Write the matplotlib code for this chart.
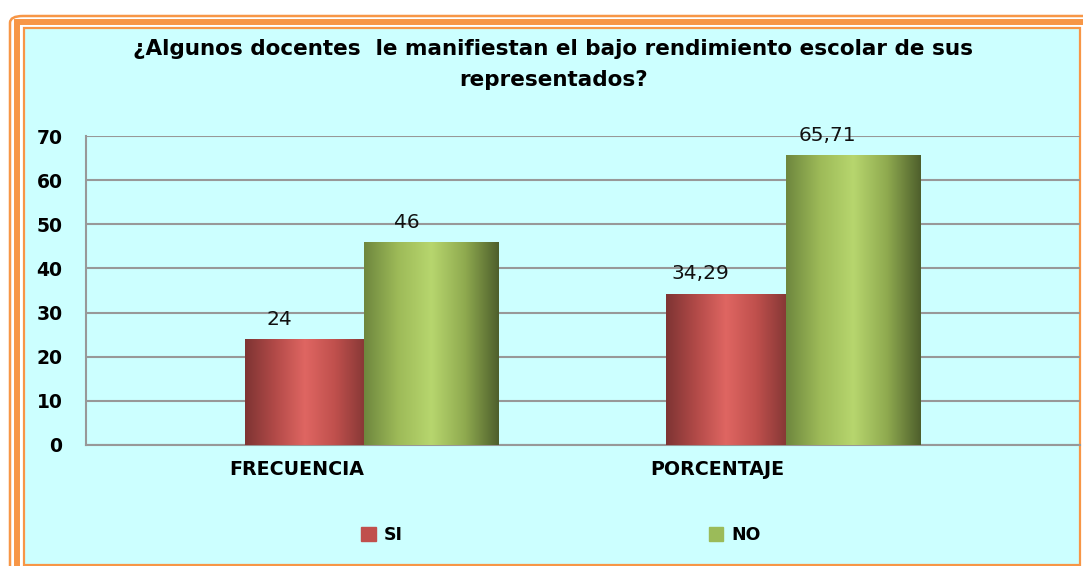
import numpy as np
import matplotlib.pyplot as plt
from matplotlib.patches import Rectangle, FancyBboxPatch, Patch
from matplotlib.colors import LinearSegmentedColormap

categorias = ["FRECUENCIA", "PORCENTAJE"]
si = [24, 34.29]
no = [46, 65.71]
etiquetas_si = ["24", "34,29"]
etiquetas_no = ["46", "65,71"]
titulo = "¿Algunos docentes  le manifiestan el bajo rendimiento escolar de sus\nrepresentados?"

W, H = 1083, 566
fig = plt.figure(figsize=(W / 100, H / 100), dpi=100)
fig.patch.set_facecolor("white")

def px(x, y, w, h):  # pixel box (from top-left) -> figure fraction
    return (x / W, 1 - (y + h) / H), w / W, h / H

naranja = "#F79646"
# outer thin frame
(x0, y0), w0, h0 = px(10, 16, 1100, 600)
fig.patches.append(FancyBboxPatch((x0, y0), w0, h0, boxstyle="round,pad=0,rounding_size=0.012",
                                  transform=fig.transFigure, fill=False, ec=naranja, lw=1.8, zorder=-3))
# thick frame
(x1, y1), w1, h1 = px(17, 22, 1070, 550)
fig.patches.append(Rectangle((x1, y1), w1, h1, transform=fig.transFigure, fill=False, ec=naranja,
                             lw=4.3, zorder=-2))
# inner area
(x2, y2), w2, h2 = px(24, 27.5, 1056, 537)
fig.patches.append(Rectangle((x2, y2), w2, h2, transform=fig.transFigure, fc="#CCFFFF", ec=naranja,
                             lw=1.6, zorder=-1))

ax = fig.add_axes([86 / W, 1 - 445 / H, (1080 - 86) / W, (445 - 136) / H])
ax.set_facecolor("none")

x = np.arange(len(categorias))
b1 = ax.bar(x - 0.161, si, 0.284, color="#C0504D", label="SI", zorder=3)
b2 = ax.bar(x + 0.141, no, 0.32, color="#9BBB59", label="NO", zorder=3)

rojo = LinearSegmentedColormap.from_list("r", ["#7E3433", "#B24A48", "#DF6662", "#C0504D", "#873836"])
verde = LinearSegmentedColormap.from_list("g", ["#6E873E", "#9DBA58", "#B7D66E", "#8FAA4F", "#4E5F2C"])
grad = np.linspace(0, 1, 256).reshape(1, -1)
for barras, cmap in [(b1, rojo), (b2, verde)]:
    for b in barras:
        bx, by = b.get_x(), b.get_y()
        bw, bh = b.get_width(), b.get_height()
        im = ax.imshow(grad, cmap=cmap, aspect="auto", extent=[bx, bx + bw, by, by + bh],
                       zorder=4, interpolation="bicubic")
        im.set_clip_path(b)

for barras, etq in [(b1, etiquetas_si), (b2, etiquetas_no)]:
    for b, t in zip(barras, etq):
        ax.text(b.get_x() + b.get_width() / 2 - 0.06, b.get_height() + 2.3, t, ha="center",
                va="bottom", fontsize=14.5, family="DejaVu Sans", color="#111111", zorder=5)

ax.set_xlim(-0.68, 1.68)
ax.set_ylim(0, 70)
ax.set_yticks(range(0, 71, 10))
ax.set_xticks(x - 0.18)
ax.set_xticklabels(categorias)
ax.grid(axis="y", color="#989898", lw=1.5, zorder=1)
for s in ["top", "right"]:
    ax.spines[s].set_visible(False)
for s in ["left", "bottom"]:
    ax.spines[s].set_color("#989898")
    ax.spines[s].set_linewidth(1.5)
ax.tick_params(length=0)
ax.tick_params(axis="y", pad=17, labelsize=13.5)
ax.tick_params(axis="x", pad=11, labelsize=13.7)
for t in ax.get_xticklabels() + ax.get_yticklabels():
    t.set_fontweight("bold")
    t.set_family("DejaVu Sans")

ax.set_title(titulo, fontsize=15.5, fontweight="bold", family="DejaVu Sans", pad=36, x=0.47,
             linespacing=1.7)

fig.legend(handles=[Patch(color="#C0504D", label="SI"), Patch(color="#9BBB59", label="NO")],
           loc="center", bbox_to_anchor=(561 / W, 1 - 535 / H), ncol=2, frameon=False,
           columnspacing=17.6, handlelength=0.85, handleheight=0.85, handletextpad=0.45,
           prop={"family": "DejaVu Sans", "weight": "bold", "size": 12.5})

fig.savefig("out.png", dpi=100)
